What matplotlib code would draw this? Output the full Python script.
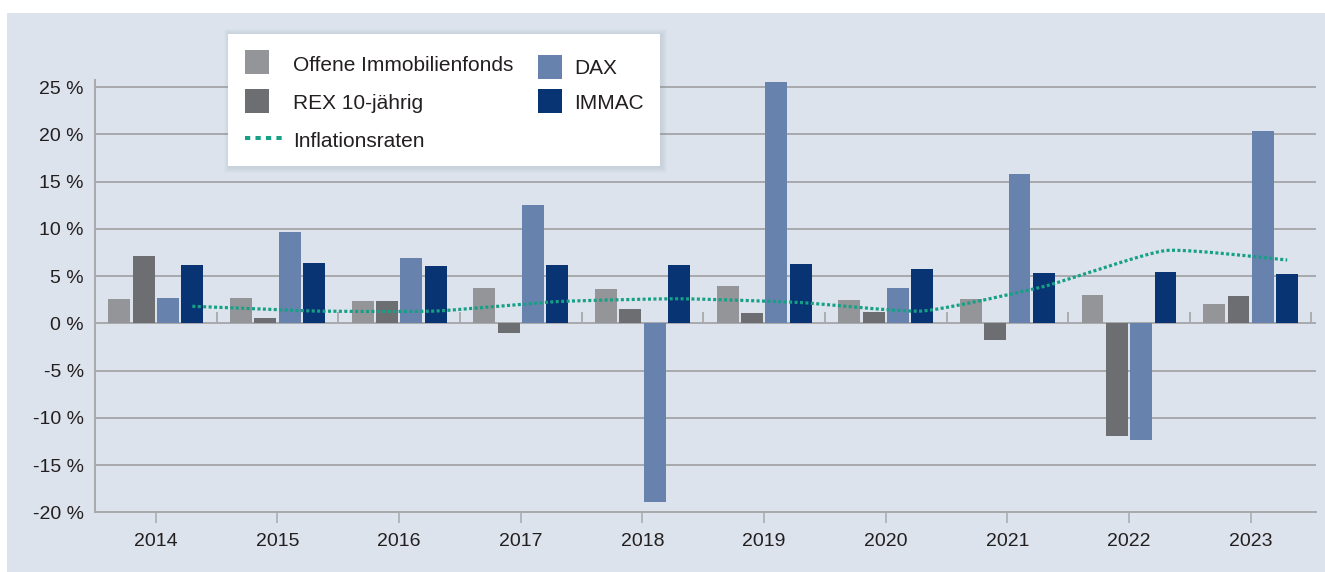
import numpy as np
import matplotlib
matplotlib.use("Agg")
import matplotlib.pyplot as plt
from matplotlib.patches import Rectangle
from matplotlib.lines import Line2D

plt.rcParams['font.family'] = ['Liberation Sans', 'DejaVu Sans']

# ---- data ----
years = ["2014", "2015", "2016", "2017", "2018", "2019", "2020", "2021", "2022", "2023"]
offene = [2.6, 2.7, 2.4, 3.7, 3.6, 3.9, 2.5, 2.6, 3.0, 2.0]
rex = [7.1, 0.6, 2.4, -1.0, 1.5, 1.1, 1.2, -1.8, -11.9, 2.9]
dax = [2.7, 9.7, 6.9, 12.5, -18.9, 25.5, 3.7, 15.8, -12.4, 20.3]
immac = [6.2, 6.4, 6.1, 6.2, 6.2, 6.3, 5.7, 5.3, 5.4, 5.2]
inflation = [1.8, 1.3, 1.3, 2.3, 2.6, 2.2, 1.3, 3.9, 7.7, 6.7]
yticks = [-20, -15, -10, -5, 0, 5, 10, 15, 20, 25]
ytick_labels = ["-20 %", "-15 %", "-10 %", "-5 %", "0 %", "5 %", "10 %", "15 %", "20 %", "25 %"]
series_names = ["Offene Immobilienfonds", "REX 10-jährig", "DAX", "IMMAC"]
inflation_name = "Inflationsraten"

# ---- style ----
W, H = 1325, 572
col_off = "#939598"
col_rex = "#6d6e71"
col_dax = "#6682ad"
col_immac = "#083474"
col_infl = "#16a086"
col_grid = "#a7a9ac"
col_bg = "#dce3ec"
col_text = "#231f20"

fig = plt.figure(figsize=(W / 100, H / 100), dpi=100, facecolor="white")

def fx(x):
    return x / W

def fy(y):
    return 1 - y / H

# panel background
fig.patches.append(Rectangle((fx(7), 0), fx(W - 7), fy(13), transform=fig.transFigure,
                             facecolor=col_bg, edgecolor="none", zorder=-5))

ax_left, ax_right, ax_top, ax_bot = 95, 1316, 80, 512.3
ax = fig.add_axes([fx(ax_left), fy(ax_bot), fx(ax_right - ax_left), (ax_bot - ax_top) / H])
ax.set_facecolor("none")
ax.set_zorder(1)

x = np.arange(len(years))
width = 0.18
offsets = [-0.3, -0.1, 0.1, 0.3]
colors = [col_off, col_rex, col_dax, col_immac]
for vals, off, c in zip([offene, rex, dax, immac], offsets, colors):
    ax.bar(x + off, vals, width=width, color=c, edgecolor="none", zorder=3)

# gently smoothed inflation line (cubic Bezier through the data points)
xi = x + 0.3
yi = np.array(inflation, dtype=float)
pts = np.column_stack([xi, yi])
ext = np.vstack([pts[0], pts, pts[-1]])
tension = 0.5
t = np.linspace(0, 1, 30)[:, None]
curve = []
for i in range(1, len(ext) - 2):
    p0, p1, p2, p3 = ext[i - 1], ext[i], ext[i + 1], ext[i + 2]
    c1 = p1 + tension * (p2 - p0) / 6
    c2 = p2 - tension * (p3 - p1) / 6
    seg = (1 - t) ** 3 * p1 + 3 * (1 - t) ** 2 * t * c1 + 3 * (1 - t) * t ** 2 * c2 + t ** 3 * p2
    curve.append(seg if i == 1 else seg[1:])
curve = np.vstack(curve)
ax.plot(curve[:, 0], curve[:, 1], color=col_infl, lw=2.3, linestyle=(0, (0.95, 0.75)),
        dash_capstyle="butt", zorder=4)

# axes styling
ax.set_xlim(-0.5, 9.537)
ax.set_ylim(-20, 25.75)
ax.set_yticks(yticks)
ax.set_yticklabels(ytick_labels)
ax.set_xticks(x)
ax.set_xticklabels(years)
for s in ["top", "right"]:
    ax.spines[s].set_visible(False)
ax.spines["left"].set_color(col_grid)
ax.spines["left"].set_linewidth(1.4)
ax.spines["bottom"].set_color(col_grid)
ax.spines["bottom"].set_linewidth(1.4)
ax.yaxis.grid(True, color=col_grid, lw=1.4)
ax.set_axisbelow(True)
ax.tick_params(axis="y", length=0, pad=8, labelsize=14, labelcolor=col_text)
ax.tick_params(axis="x", length=7.7, width=1.1, color=col_grid, pad=7.5, labelsize=14, labelcolor=col_text)
# group separator ticks on the zero line
ax.vlines(x + 0.5, 0, 1.2, color=col_grid, lw=1.3, zorder=2)

# ---- legend (drawn manually, above the axes) ----
lx0, ly0, lx1, ly1 = 228, 34, 660, 166
for i in range(1, 7):
    fig.patches.append(Rectangle((fx(lx0 - i + 1.5), fy(ly1 + i + 1)), fx(lx1 - lx0 + 2 * i - 1), (ly1 - ly0 + 2 * i) / H,
                                 transform=fig.transFigure, facecolor="#8090a8", alpha=0.035,
                                 edgecolor="none", zorder=5))
fig.patches.append(Rectangle((fx(lx0), fy(ly1)), fx(lx1 - lx0), (ly1 - ly0) / H, transform=fig.transFigure,
                             facecolor="white", edgecolor="none", zorder=6))

def square(x0, y0, c):
    fig.patches.append(Rectangle((fx(x0), fy(y0 + 24)), fx(24), 24 / H, transform=fig.transFigure,
                                 facecolor=c, edgecolor="none", zorder=7))

square(245, 50, col_off)
square(245, 89, col_rex)
square(538, 55, col_dax)
square(538, 89, col_immac)
fig.lines.append(Line2D([fx(245), fx(283)], [fy(138.3), fy(138.3)], transform=fig.transFigure,
                        color=col_infl, lw=2.9, linestyle=(0, (1.3, 1.3)), dash_capstyle="butt", zorder=7))
legend_fs = 15
fig.text(fx(293), fy(70.7), series_names[0], fontsize=legend_fs, color=col_text, va="baseline", ha="left", zorder=8)
fig.text(fx(293), fy(109.3), series_names[1], fontsize=legend_fs, color=col_text, va="baseline", ha="left", zorder=8)
fig.text(fx(293), fy(147.3), inflation_name, fontsize=legend_fs, color=col_text, va="baseline", ha="left", zorder=8)
fig.text(fx(574), fy(74.5), series_names[2], fontsize=legend_fs, color=col_text, va="baseline", ha="left", zorder=8)
fig.text(fx(574), fy(108.8), series_names[3], fontsize=legend_fs, color=col_text, va="baseline", ha="left", zorder=8)

fig.savefig("out.png", dpi=100, facecolor="white")
